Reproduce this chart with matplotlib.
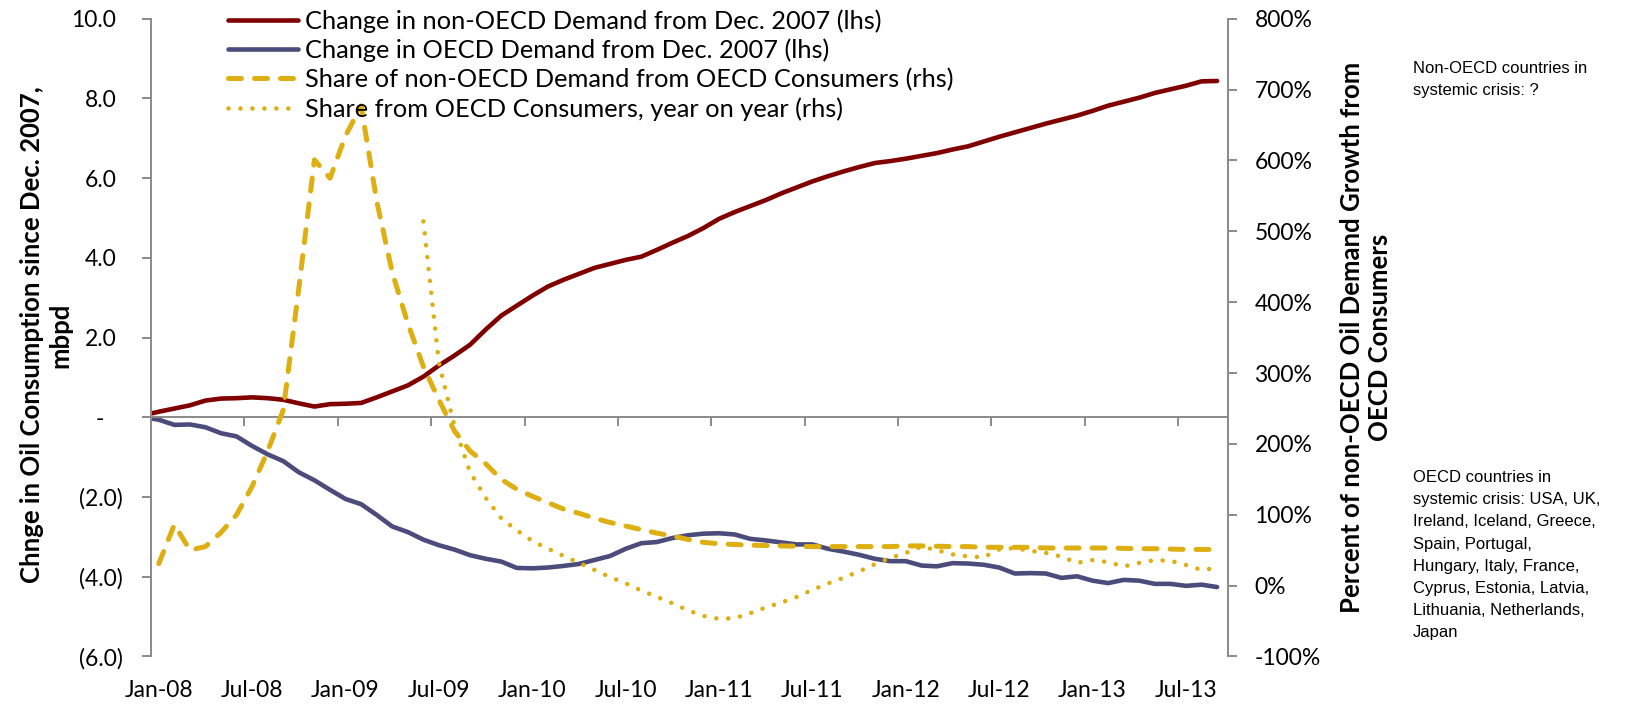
import matplotlib
matplotlib.use("Agg")
import matplotlib.pyplot as plt
import matplotlib.transforms as mtransforms
import numpy as np
import pandas as pd

# Дані (місячні значення)
LHS_START = "2007-12"     # зміна від грудня 2007, перша точка = грудень 2007
SHARE_START = "2008-01"
YOY_START = "2009-06"

# Зміна попиту поза ОЕСР від грудня 2007, млн б/д (lhs)
non_oecd = [0.05, 0.14, 0.22, 0.30, 0.42, 0.47, 0.48, 0.50, 0.48, 0.44,
            0.35, 0.27, 0.33, 0.34, 0.36, 0.50, 0.65, 0.80, 1.02, 1.30,
            1.55, 1.82, 2.20, 2.55, 2.80, 3.05, 3.28, 3.45, 3.60, 3.75,
            3.85, 3.95, 4.03, 4.20, 4.38, 4.55, 4.75, 4.98, 5.15, 5.30,
            5.45, 5.62, 5.77, 5.92, 6.05, 6.17, 6.28, 6.38, 6.43, 6.49,
            6.56, 6.63, 6.72, 6.80, 6.92, 7.04, 7.15, 7.26, 7.37, 7.47,
            7.57, 7.69, 7.82, 7.92, 8.02, 8.14, 8.23, 8.32, 8.43, 8.44]

# Зміна попиту ОЕСР від грудня 2007, млн б/д (lhs)
oecd = [0.00, -0.06, -0.19, -0.18, -0.25, -0.40, -0.48, -0.72, -0.93, -1.10,
        -1.38, -1.58, -1.82, -2.05, -2.18, -2.45, -2.74, -2.88, -3.07, -3.21,
        -3.32, -3.46, -3.55, -3.62, -3.78, -3.79, -3.77, -3.73, -3.68, -3.58,
        -3.48, -3.30, -3.16, -3.13, -3.03, -2.96, -2.92, -2.91, -2.94, -3.05,
        -3.09, -3.14, -3.19, -3.19, -3.30, -3.37, -3.45, -3.55, -3.61, -3.61,
        -3.72, -3.74, -3.66, -3.67, -3.70, -3.77, -3.92, -3.91, -3.92, -4.03,
        -3.99, -4.10, -4.16, -4.08, -4.10, -4.18, -4.18, -4.23, -4.20, -4.26]

# Частка попиту поза ОЕСР від споживачів ОЕСР, % (rhs)
share_oecd = [31, 86, 50, 55, 75, 100, 140, 190, 248, 420,
              601, 575, 635, 677, 543, 442, 370, 309, 262, 218,
              190, 172, 150, 136, 126, 117, 108, 102, 95, 89,
              84, 79, 74, 70, 65, 61, 59, 58, 57, 56.5,
              56, 55.5, 55, 55, 55, 55, 55, 55, 56, 56,
              55.5, 55, 55, 54, 54, 54, 54, 53, 53, 53,
              53, 53, 52.5, 52, 52, 51.5, 51, 51, 51]

# Частка від споживачів ОЕСР, рік до року, % (rhs)
share_yoy = [514, 314, 225, 160, 124, 95, 78, 63, 52, 42,
             32, 22, 12, 3, -7, -16, -25, -35, -43, -47,
             -46, -39, -31, -24, -16, -6, 3, 11, 20, 30,
             39, 46, 55, 50, 44, 41, 40, 51, 53, 49,
             46, 41, 32, 36, 33, 27, 32, 36, 35, 29,
             22, 25]

x_labels = ["Jan-08", "Jul-08", "Jan-09", "Jul-09", "Jan-10", "Jul-10",
            "Jan-11", "Jul-11", "Jan-12", "Jul-12", "Jan-13", "Jul-13"]
lhs_ticks = [-6, -4, -2, 0, 2, 4, 6, 8, 10]
rhs_ticks = [-100, 0, 100, 200, 300, 400, 500, 600, 700, 800]

legend_labels = [
    "Change in non-OECD Demand from Dec. 2007 (lhs)",
    "Change in OECD Demand from Dec. 2007 (lhs)",
    "Share of non-OECD Demand from OECD Consumers (rhs)",
    "Share from OECD Consumers, year on year (rhs)",
]
lhs_title = "Chnge in Oil Consumption since Dec. 2007,\nmbpd"
rhs_title = "Percent of non-OECD Oil Demand Growth from\nOECD Consumers"
note_non_oecd = "Non-OECD countries in\nsystemic crisis: ?"
note_oecd = ("OECD countries in\nsystemic crisis: USA, UK,\nIreland, Iceland, Greece,\n"
             "Spain, Portugal,\nHungary, Italy, France,\nCyprus, Estonia, Latvia,\n"
             "Lithuania, Netherlands,\nJapan")

RED = "#800000"
BLUE = "#4C4C7C"
GOLD = "#DEAF12"
GRAY = "#8A8A8A"
FS = 16.5          # підписи поділок
FS_LEGEND = 18.3
FS_TITLE = 18.5
FS_NOTE = 12


def month_pos(start: str, n: int) -> np.ndarray:
    """Позиція на осі: місяці від січня 2008, точка в середині місяця."""
    offset = (pd.Period(start, "M") - pd.Period("2008-01", "M")).n
    return np.arange(n) + offset + 0.5


def lhs_fmt(v: float) -> str:
    """Бухгалтерський формат Excel: (2.0), -, 2.0"""
    if v > 0:
        return f"{v:.1f}"
    if v < 0:
        return f"({-v:.1f})"
    return "-"


def main() -> None:
    plt.rcParams["font.family"] = ["Lato", "DejaVu Sans"]

    fig = plt.figure(figsize=(16.39, 7.05), dpi=100)
    ax = fig.add_axes([151 / 1639, 1 - 656.4 / 705, (1228 - 151) / 1639, (656.4 - 18.8) / 705])
    ax2 = ax.twinx()

    l1, = ax.plot(month_pos(LHS_START, len(non_oecd)), non_oecd, color=RED, lw=3.3,
                  solid_joinstyle="round", solid_capstyle="round")
    l2, = ax.plot(month_pos(LHS_START, len(oecd)), oecd, color=BLUE, lw=3.3,
                  solid_joinstyle="round", solid_capstyle="round")
    l3, = ax2.plot(month_pos(SHARE_START, len(share_oecd)), share_oecd, color=GOLD, lw=3.6,
                   dashes=(2.6, 2.6), dash_capstyle="round")
    l4, = ax2.plot(month_pos(YOY_START, len(share_yoy)), share_yoy, color=GOLD, lw=3.3,
                   dashes=(0.01, 2.6), dash_capstyle="round")

    # осі
    ax.set_xlim(0, 69.2)
    ax.set_ylim(-6, 10)
    ax2.set_ylim(-100, 800)

    for side in ("top", "right"):
        ax.spines[side].set_visible(False)
    for side in ("top", "bottom", "left"):
        ax2.spines[side].set_visible(False)
    ax.spines["left"].set_color(GRAY)
    ax.spines["left"].set_linewidth(1.4)
    ax.spines["bottom"].set_position(("data", 0))
    ax.spines["bottom"].set_color(GRAY)
    ax.spines["bottom"].set_linewidth(1.4)
    ax2.spines["right"].set_color(GRAY)
    ax2.spines["right"].set_linewidth(1.4)

    tick_pos = np.arange(0, 67, 6)
    ax.set_xticks(tick_pos)
    ax.tick_params(axis="x", direction="out", length=6.5, width=1.4, color=GRAY,
                   labelbottom=False)

    sec = ax.secondary_xaxis(0)
    sec.set_xticks(tick_pos + 0.5, x_labels)
    sec.tick_params(length=0, pad=17, labelsize=FS)
    for s in sec.spines.values():
        s.set_visible(False)

    ax.set_yticks(lhs_ticks, [lhs_fmt(v) for v in lhs_ticks])
    ax.tick_params(axis="y", direction="out", length=6.5, width=1.4, color=GRAY,
                   pad=13.5, labelsize=FS)
    # вирівнювання як у бухгалтерському форматі Excel
    for v, lab in zip(lhs_ticks, ax.get_yticklabels()):
        dx = 0.069 if v > 0 else (0.19 if v == 0 else 0.0)
        lab.set_transform(lab.get_transform()
                          + mtransforms.ScaledTranslation(-dx, 0, fig.dpi_scale_trans))

    ax2.set_yticks(rhs_ticks, [f"{v}%" for v in rhs_ticks])
    ax2.tick_params(axis="y", direction="out", length=6.5, width=1.4, color=GRAY,
                    pad=12.5, labelsize=FS)

    fig.legend([l1, l2, l3, l4], legend_labels, loc="upper left",
               bbox_to_anchor=(228 / 1639, 0.987), frameon=False, fontsize=FS_LEGEND,
               handlelength=2.75, handletextpad=0.28, labelspacing=0.23,
               borderpad=0, borderaxespad=0)

    fig.text(46 / 1639, 0.525, lhs_title, rotation=90, ha="center", va="center",
             fontsize=FS_TITLE, fontweight="bold", multialignment="center")
    fig.text(1366 / 1639, 0.522, rhs_title, rotation=90, ha="center", va="center",
             fontsize=FS_TITLE, fontweight="bold", multialignment="center")

    fig.text(1413 / 1639, 1 - 61 / 705, note_non_oecd, ha="left", va="top",
             fontsize=FS_NOTE, family="Liberation Sans", linespacing=1.6)
    fig.text(1413 / 1639, 1 - 470 / 705, note_oecd, ha="left", va="top",
             fontsize=FS_NOTE, family="Liberation Sans", linespacing=1.6)

    fig.savefig("out.png", dpi=100)
    plt.close(fig)


if __name__ == "__main__":
    main()
